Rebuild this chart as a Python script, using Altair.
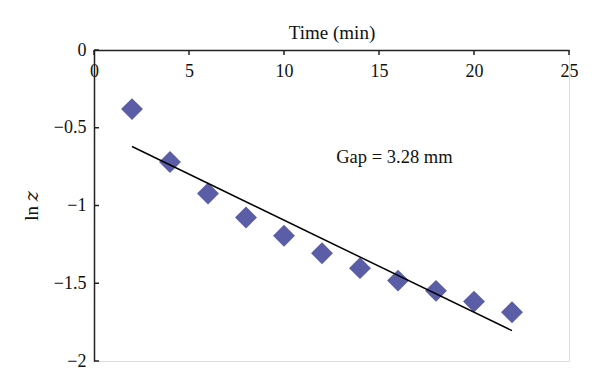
import altair as alt
import pandas as pd

# Data
time_min = [2, 4, 6, 8, 10, 12, 14, 16, 18, 20, 22]
ln_z = [-0.38, -0.72, -0.923, -1.077, -1.195, -1.307, -1.403, -1.483, -1.549, -1.618, -1.687]
x_ticks = [0, 5, 10, 15, 20, 25]
y_ticks = [0, -0.5, -1, -1.5, -2]
note_x = [12.75]
note_y = [-0.685]
note_text = ["Gap = 3.28 mm"]

df = pd.DataFrame({"t": time_min, "lnz": ln_z})
note_df = pd.DataFrame({"t": note_x, "lnz": note_y, "label": note_text})
xt_df = pd.DataFrame({"t": x_ticks})
yt_df = pd.DataFrame({"lnz": y_ticks})

FONT = "Liberation Serif, DejaVu Serif"
W, H = 475, 311

xscale = alt.Scale(domain=[0, 25], nice=False, zero=False)
yscale = alt.Scale(domain=[-2, 0], nice=False, zero=False)

x_axis = alt.Axis(orient="top", values=x_ticks, title="Time (min)",
                  titleFont=FONT, titleFontSize=19, titleFontWeight="normal",
                  titleColor="#111", titlePadding=8,
                  grid=False, ticks=False, domainColor="#222", domainWidth=1.5,
                  labelFont=FONT, labelFontSize=18, labelColor="#111",
                  labelBaseline="alphabetic", labelPadding=-26,
                  labelFlush=False)

y_axis = alt.Axis(orient="left", values=y_ticks, format="~g",
                  title="ln 𝑧", titleFont=FONT, titleFontSize=19,
                  titleFontWeight="normal", titleColor="#111",
                  titlePadding=12, grid=False, ticks=False,
                  domainColor="#222", domainWidth=1.5,
                  labelFont=FONT, labelFontSize=18,
                  labelColor="#111", labelPadding=8, labelFlush=False)


def X(field):
    return alt.X(field, scale=xscale, axis=x_axis)


def Y(field):
    return alt.Y(field, scale=yscale, axis=y_axis)


points = alt.Chart(df).mark_point(shape="diamond", filled=True, size=480,
                                  color="#5b5ea6", opacity=1).encode(
    x=X("t:Q"), y=Y("lnz:Q"),
)

trend = alt.Chart(df).transform_regression("t", "lnz", method="linear").mark_line(
    color="black", strokeWidth=1.5).encode(
    x=X("t:Q"), y=Y("lnz:Q"),
)

# inward tick marks on the top (x) axis and the left (y) axis
xticks_layer = alt.Chart(xt_df).mark_rule(color="#222", strokeWidth=1.5).encode(
    x=X("t:Q"), y=alt.value(0), y2=alt.value(5),
)
yticks_layer = alt.Chart(yt_df).mark_rule(color="#222", strokeWidth=1.5).encode(
    y=Y("lnz:Q"), x=alt.value(0), x2=alt.value(5),
)

note = alt.Chart(note_df).mark_text(align="left", baseline="middle",
                                    font=FONT, fontSize=18.5, color="#111").encode(
    x=X("t:Q"), y=Y("lnz:Q"), text="label:N",
)

chart = alt.layer(points, trend, xticks_layer, yticks_layer, note).properties(
    width=W, height=H,
    padding={"left": 14, "top": 15, "right": 5, "bottom": 5},
).configure_view(stroke=None).configure(background="white")

chart.save("out.html", embed_options={"renderer": "svg", "actions": False})
